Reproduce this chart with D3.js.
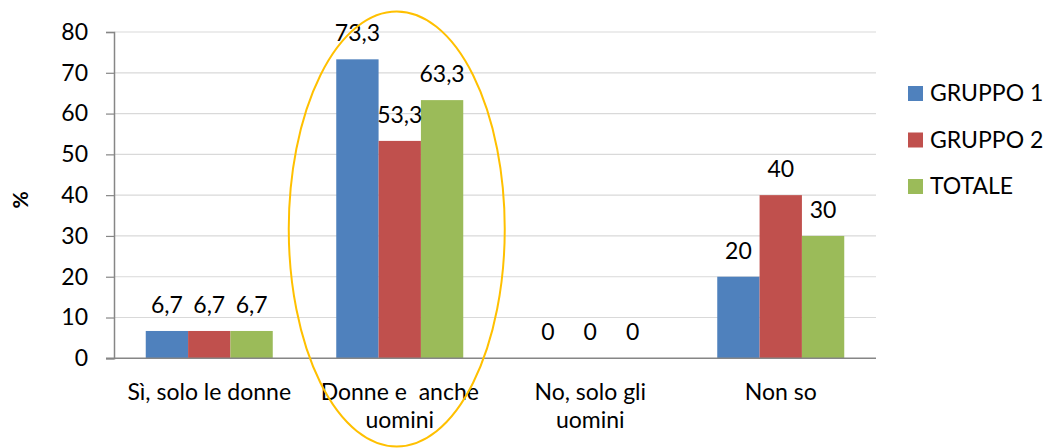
<!DOCTYPE html>
<html>
<head>
<meta charset="utf-8">
<script src="https://cdn.jsdelivr.net/npm/d3@7"></script>
<style>
  html, body { margin: 0; padding: 0; background: #fff; }
  svg { display: block; font-family: Lato, "Open Sans", sans-serif; }
</style>
</head>
<body>
<svg id="chart" width="1044" height="448"></svg>
<script>
// Survey answers, percentages per group
const categories = ["Sì, solo le donne", "Donne e  anche uomini", "No, solo gli uomini", "Non so"];
const categoryLines = [["Sì, solo le donne"], ["Donne e  anche", "uomini"], ["No, solo gli", "uomini"], ["Non so"]];
const seriesNames = ["GRUPPO 1", "GRUPPO 2", "TOTALE"];
const gruppo1 = [6.7, 73.3, 0, 20];
const gruppo2 = [6.7, 53.3, 0, 40];
const totale  = [6.7, 63.3, 0, 30];
const yTicks = [0, 10, 20, 30, 40, 50, 60, 70, 80];
const colors = ["#4F81BD", "#C0504D", "#9BBB59"];

const seriesValues = [gruppo1, gruppo2, totale];
const fmt = v => String(v).replace(".", ",");
const FS = 23;

const svg = d3.select("#chart");
const margin = { left: 114, right: 876, top: 32, bottom: 358.3 };

const x0 = d3.scaleBand().domain(categories).range([margin.left, margin.right]).paddingInner(0).paddingOuter(0);
// gap between clusters = 150% of one bar width
const groupFrac = 3 / 4.5;
const x1 = d3.scaleBand().domain(seriesNames).range([0, x0.bandwidth() * groupFrac]).padding(0);
const y = d3.scaleLinear().domain([0, 80]).range([margin.bottom, margin.top]);

// gridlines
svg.append("g").selectAll("line").data(yTicks.filter(t => t > 0)).join("line")
  .attr("x1", margin.left).attr("x2", margin.right)
  .attr("y1", d => y(d)).attr("y2", d => y(d))
  .attr("stroke", "#d9d9d9").attr("stroke-width", 1.2);

// y axis
const yAxis = svg.append("g").attr("transform", `translate(${margin.left},0)`)
  .call(d3.axisLeft(y).tickValues(yTicks).tickSize(8).tickPadding(18).tickFormat(d => d));
yAxis.select(".domain").attr("stroke", "#868686").attr("stroke-width", 1.5);
yAxis.selectAll(".tick line").attr("stroke", "#868686").attr("stroke-width", 1.2);
yAxis.selectAll(".tick text").attr("font-size", FS).attr("fill", "#000")
  .attr("font-family", "Lato, 'Open Sans', sans-serif");

// bars
const groups = svg.append("g").selectAll("g").data(categories).join("g")
  .attr("transform", c => `translate(${x0(c) + x0.bandwidth() * (1 - groupFrac) / 2},0)`);

groups.selectAll("rect").data((c, i) => seriesNames.map((s, j) => ({ s, v: seriesValues[j][i], j })))
  .join("rect")
  .attr("x", d => x1(d.s))
  .attr("width", x1.bandwidth())
  .attr("y", d => y(d.v))
  .attr("height", d => y(0) - y(d.v))
  .attr("fill", d => colors[d.j]);

// value labels
groups.selectAll("text.val").data((c, i) => seriesNames.map((s, j) => ({ s, v: seriesValues[j][i], j })))
  .join("text").attr("class", "val")
  .attr("x", d => x1(d.s) + x1.bandwidth() / 2)
  .attr("y", d => y(d.v) - 18)
  .attr("text-anchor", "middle")
  .attr("font-size", FS)
  .attr("fill", "#000")
  .text(d => fmt(d.v));

// x axis line
svg.append("line")
  .attr("x1", 106).attr("x2", margin.right)
  .attr("y1", y(0)).attr("y2", y(0))
  .attr("stroke", "#868686").attr("stroke-width", 1.5);

// category labels
svg.append("g").selectAll("text").data(categories).join("text")
  .attr("text-anchor", "middle")
  .attr("font-size", FS)
  .attr("fill", "#000")
  .attr("xml:space", "preserve")
  .style("white-space", "pre")
  .each(function(c, i) {
    const t = d3.select(this);
    categoryLines[i].forEach((line, k) => {
      t.append("tspan")
        .attr("x", x0(c) + x0.bandwidth() / 2)
        .attr("y", 399.5 + k * 28)
        .text(line);
    });
  });

// y axis title
svg.append("text")
  .attr("transform", "translate(28,200) rotate(-90)")
  .attr("text-anchor", "middle")
  .attr("font-size", 21)
  .attr("font-weight", "bold")
  .attr("fill", "#000")
  .text("%");

// legend
const legend = svg.append("g").selectAll("g").data(seriesNames).join("g")
  .attr("transform", (d, i) => `translate(908,${86 + i * 46.5})`);
legend.append("rect").attr("width", 15).attr("height", 15).attr("fill", (d, i) => colors[i]);
legend.append("text").attr("x", 22).attr("y", 15).attr("font-size", FS).attr("fill", "#000").text(d => d);

// highlight ellipse around the second category
const hx = x0(categories[1]) + x0.bandwidth() / 2 - 3;
svg.append("ellipse")
  .attr("cx", hx).attr("cy", 229)
  .attr("rx", 108).attr("ry", 217.5)
  .attr("fill", "none")
  .attr("stroke", "#FFC000")
  .attr("stroke-width", 2);
</script>
</body>
</html>
